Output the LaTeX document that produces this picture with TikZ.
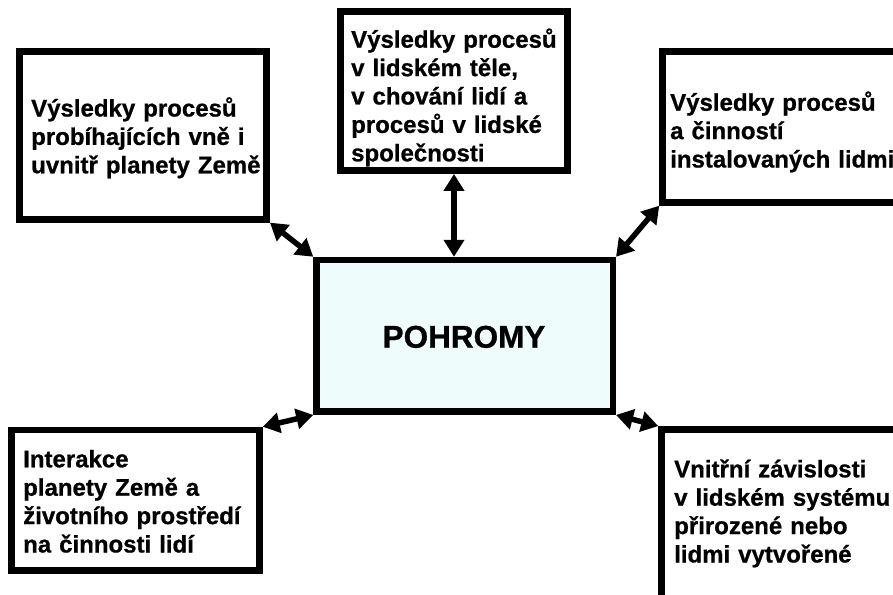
\documentclass[tikz,border=0pt]{standalone}
\usepackage{fontspec}
\setmainfont[BoldFeatures={FakeBold=0.8}]{Liberation Sans}
\usetikzlibrary{arrows.meta}
\definecolor{centerfill}{HTML}{EEFCFC}
\tikzset{
  box/.style={draw=black, line width=6.5pt, rectangle, inner sep=0pt, fill=white},
  centerbox/.style={box, fill=centerfill},
  label/.style={anchor=base west, inner sep=0pt, text width=270pt, align=left,
    font=\bfseries\fontsize{24}{28.4}\selectfont},
  link/.style={line width=5.5pt, {Triangle[length=17pt,width=20pt]}-{Triangle[length=17pt,width=20pt]}}
}
\begin{document}
\begin{tikzpicture}[x=1pt,y=-1pt]
\clip (0,0) rectangle (893,594);
\fill[white] (0,0) rectangle (893,594);
% boxes
\node[box, minimum width=247.4pt, minimum height=167.8pt] (b1) at (143,135.5) {};
\node[box, minimum width=227pt, minimum height=159.2pt] (b2) at (454,91.1) {};
\node[box, minimum width=257.5pt, minimum height=150.8pt] (b3) at (791.25,127) {};
\node[centerbox, minimum width=296.3pt, minimum height=151.7pt] (c) at (464.65,335.85) {};
\node[box, minimum width=248pt, minimum height=140.7pt] (b4) at (135.5,500.35) {};
\node[box, minimum width=258.5pt, minimum height=190.7pt] (b5) at (790.75,524.65) {};
% texts
\node[label] (t1) at (31,116.5) {Výsledky procesů\\probíhajících vně i\\uvnitř planety Země};
\node[label] (t2) at (351,47.7) {Výsledky procesů\\v lidském těle,\\v chování lidí a\\procesů v lidské\\společnosti};
\node[label] (t3) at (670,110.7) {Výsledky procesů\\a činností\\instalovaných lidmi};
\node[label] (t4) at (23,467.3) {Interakce\\planety Země a\\životního prostředí\\na činnosti lidí};
\node[label] (t5) at (674,477.3) {Vnitřní závislosti\\v lidském systému\\přirozené nebo\\lidmi vytvořené};
\node[anchor=base, inner sep=0pt, font=\bfseries\fontsize{31.5}{36}\selectfont] (tc) at (464,347.7) {POHROMY};
% connectors
\draw[link] (b1.south east) -- (c.north west);
\draw[link] (b2.south) -- (b2.south |- c.north);
\draw[link] (b3.south west) -- (c.north east);
\draw[link] (c.south west) -- (b4.north east);
\draw[link] (c.south east) -- (b5.north west);
\end{tikzpicture}
\end{document}
